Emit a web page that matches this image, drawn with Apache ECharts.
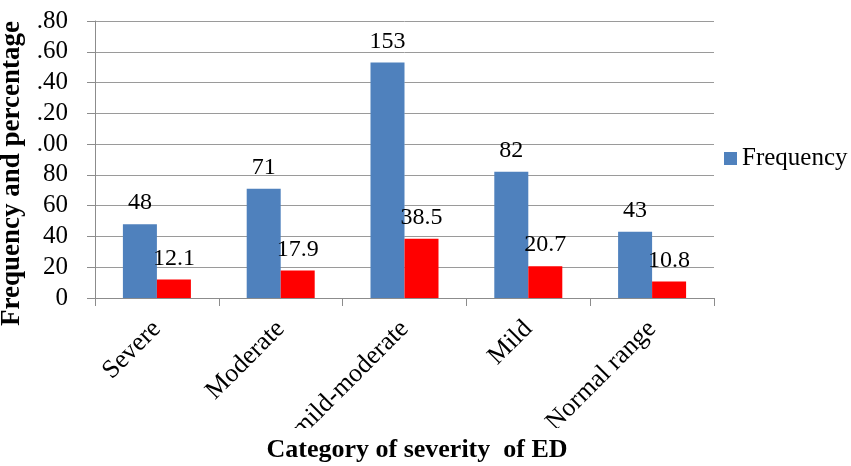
<!DOCTYPE html>
<html>
<head>
<meta charset="utf-8">
<script src="https://cdn.jsdelivr.net/npm/echarts@6/dist/echarts.min.js"></script>
<style>
  html, body { margin: 0; padding: 0; background: #fff; }
  #chart { width: 851px; height: 466px; }
</style>
</head>
<body>
<div id="chart"></div>
<script>
// Severity categories and their counts / percentages
var categories = ['Severe', 'Moderate', 'mild-moderate', 'Mild', 'Normal range'];
var frequency = [48, 71, 153, 82, 43];
var percentage = [12.1, 17.9, 38.5, 20.7, 10.8];
// Value-axis labels as printed (leading digit trimmed at the left edge)
var yTickValues = [0, 20, 40, 60, 80, 100, 120, 140, 160, 180];
var yTickLabels = ['0', '20', '40', '60', '80', '.00', '.20', '.40', '.60', '.80'];
var xAxisTitle = 'Category of severity  of ED';

var serif = '"Liberation Serif", "Times New Roman", serif';

var chart = echarts.init(document.getElementById('chart'), null, { renderer: 'canvas' });

chart.setOption({
  animation: false,
  backgroundColor: '#fff',
  textStyle: { fontFamily: serif },
  grid: { left: 95, right: 137, top: 21, bottom: 168, containLabel: false, outerBoundsMode: 'none' },
  legend: {
    data: ['Frequency'],
    orient: 'vertical',
    left: 719,
    top: 141,
    itemWidth: 13,
    itemHeight: 13,
    itemGap: 6,
    icon: 'rect',
    textStyle: { fontFamily: serif, fontSize: 25, color: '#000' }
  },
  // Bottom title band: a white strip (which trims the long category labels) and the title text
  graphic: [
    {
      type: 'rect',
      left: 240, top: 428,
      shape: { width: 360, height: 38 },
      style: { fill: '#fff' },
      z: 100
    },
    {
      type: 'text',
      x: 417, y: 450,
      style: {
        text: xAxisTitle,
        font: 'bold 26px "Liberation Serif", "Times New Roman", serif',
        fill: '#000',
        align: 'center',
        verticalAlign: 'middle'
      },
      z: 101
    }
  ],
  xAxis: {
    type: 'category',
    data: categories,
    axisLine: { lineStyle: { color: '#8c8c8c', width: 1 } },
    axisTick: { show: true, length: 8, alignWithLabel: false, lineStyle: { color: '#8c8c8c' } },
    axisLabel: {
      rotate: 45, margin: 27, interval: 0,
      fontFamily: serif, fontSize: 26, color: '#000'
    }
  },
  yAxis: {
    type: 'value',
    min: 0, max: 180, interval: 20,
    name: 'Frequency and percentage',
    nameLocation: 'middle',
    nameGap: 62,
    nameRotate: 90,
    nameTextStyle: { fontFamily: serif, fontSize: 27, fontWeight: 'bold', color: '#000', padding: [0, 0, 0, -28] },
    axisLine: { show: true, lineStyle: { color: '#8c8c8c', width: 1 } },
    axisTick: { show: true, length: 8, lineStyle: { color: '#8c8c8c' } },
    splitLine: { lineStyle: { color: '#9a9a9a', width: 1 } },
    axisLabel: {
      margin: 27,
      fontFamily: serif, fontSize: 25, color: '#000',
      formatter: function (v) {
        var i = yTickValues.indexOf(v);
        return i >= 0 ? yTickLabels[i] : '';
      }
    }
  },
  series: [
    {
      name: 'Frequency',
      type: 'bar',
      data: frequency,
      barWidth: 34,
      barGap: '0%',
      itemStyle: { color: '#4F81BD' },
      label: {
        show: true, position: 'top', distance: 9,
        fontFamily: serif, fontSize: 24, color: '#000'
      }
    },
    {
      name: 'Percentage',
      type: 'bar',
      data: percentage,
      barWidth: 34,
      barGap: '0%',
      itemStyle: { color: '#FF0000' },
      label: {
        show: true, position: 'top', distance: 9,
        fontFamily: serif, fontSize: 24, color: '#000'
      }
    }
  ]
});
</script>
</body>
</html>
